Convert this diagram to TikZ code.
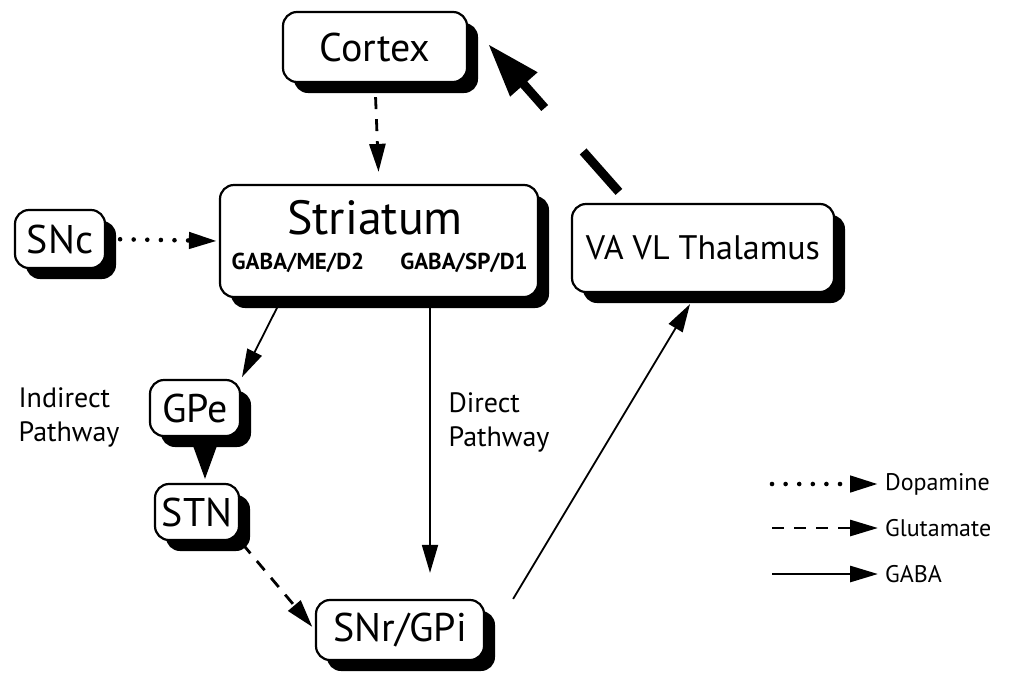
\documentclass[tikz,border=0pt]{standalone}
\usepackage{fontspec}
\setmainfont{PT Sans}
\usetikzlibrary{arrows.meta,shadows}

\tikzset{
  region/.style={draw, line width=1.1pt, rounded corners=7pt, fill=white,
    inner sep=0pt,
    drop shadow={shadow xshift=5.5pt, shadow yshift=-5.5pt, fill=black, opacity=1},
    font=\fontsize{20}{22}\selectfont},
  sublbl/.style={font=\fontsize{11.5}{12}\selectfont\bfseries},
  pathlbl/.style={font=\fontsize{14}{17}\selectfont, align=left},
  legendlbl/.style={font=\fontsize{12}{14}\selectfont, anchor=west},
  tip/.style={-{Triangle[length=14pt,width=8pt]}},
  dopa/.style={tip, line width=2.3pt, dash pattern=on 0pt off 6.8pt, line cap=round},
  glu/.style={tip, line width=1.4pt, dash pattern=on 6pt off 5pt},
  gaba/.style={tip, line width=0.9pt},
  heavy/.style={-{Triangle[length=27pt,width=17pt]}, line width=4.5pt,
    dash pattern=on 27pt off 29pt}
}

\begin{document}
\begin{tikzpicture}[x=0.5pt, y=-0.5pt]
\useasboundingbox (0,0) rectangle (1020,675);

% boxes
\node[region, minimum width=92pt, minimum height=35pt] (cortex) at (375,47) {Cortex};
\node[region, minimum width=159pt, minimum height=56pt] (striatum) at (379,241) {};
\node[font=\fontsize{24}{26}\selectfont] (striatumlbl) at (375,218) {Striatum};
\node[sublbl] (gabad2) at (298,263) {GABA/ME/D2};
\node[sublbl] (gabad1) at (464,263) {GABA/SP/D1};
\node[region, minimum width=45pt, minimum height=29pt] (snc) at (60,239) {SNc};
\node[region, minimum width=45pt, minimum height=28pt] (gpe) at (195,408) {GPe};
\node[region, minimum width=42pt, minimum height=28pt] (stn) at (197,512) {STN};
\node[region, minimum width=84pt, minimum height=30pt] (snr) at (400,630) {SNr/GPi};
\node[region, minimum width=131pt, minimum height=44pt,
      font=\fontsize{17}{19}\selectfont] (thal) at (703,248) {VA VL Thalamus};

% pathway labels
\node[pathlbl] (indirect) at (69,417) {Indirect\\Pathway};
\node[pathlbl] (direct) at (499,422) {Direct\\Pathway};

% connections
\draw[glu, shorten <=7pt, shorten >=6pt] (cortex.south) -- (striatum.north);
\draw[dopa, shorten <=7pt, shorten >=1pt] (snc.east) -- (striatum.west);
\draw[gaba, shorten >=1pt] ([xshift=31.5pt]striatum.south west) -- (gpe.north east);
\draw[-{Triangle[length=19pt,width=13.5pt]}, line width=1pt, shorten <=3pt, shorten >=2pt] ([xshift=5pt]gpe.south) -- ([xshift=4pt]stn.north);
\draw[glu, shorten <=2pt, shorten >=2pt] (stn.south east) -- (snr.west);
\draw[gaba, shorten <=2pt, shorten >=13pt] ([xshift=25.5pt]striatum.south) -- ([xshift=15pt]snr.north);
\draw[gaba] ([xshift=14pt]snr.north east) -- ([xshift=-6.5pt,yshift=-5.5pt]thal.south);
\draw[heavy] ([xshift=24pt,yshift=5.5pt]thal.north west) -- ([xshift=10pt,yshift=1.5pt]cortex.east);

% legend
\node[legendlbl] (dopalbl) at (878,484) {Dopamine};
\node[legendlbl] (glulbl) at (878,528) {Glutamate};
\node[legendlbl] (gabalbl) at (878,574) {GABA};
\coordinate (dopastart) at (772,484);
\coordinate (glustart) at (772,528);
\coordinate (gabastart) at (772,574);
\draw[dopa] (dopastart) -- (dopalbl.west);
\draw[glu] (glustart) -- (glulbl.west);
\draw[gaba, line width=1.4pt] (gabastart) -- (gabalbl.west);
\end{tikzpicture}
\end{document}
